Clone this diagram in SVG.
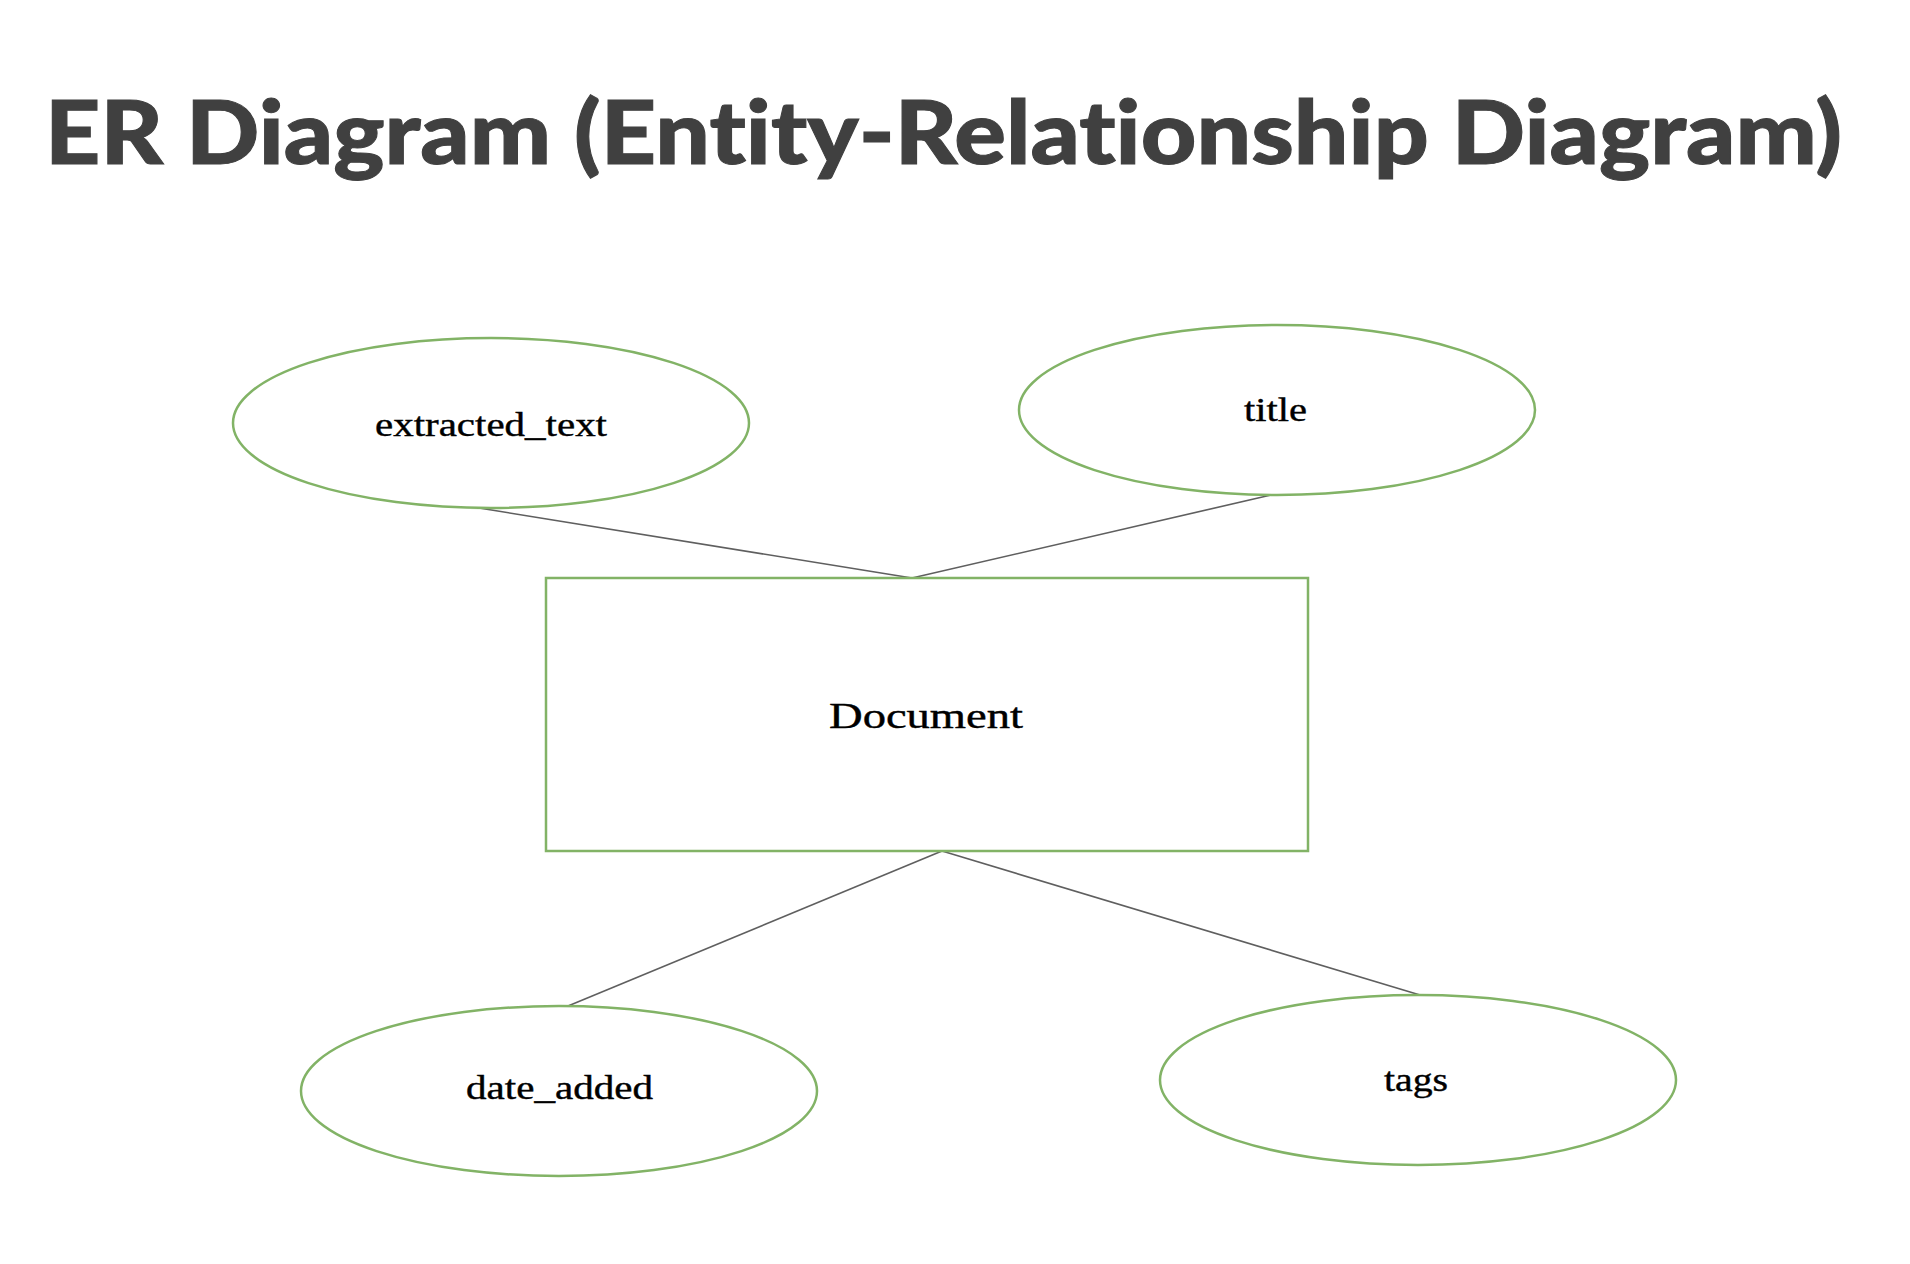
<svg xmlns="http://www.w3.org/2000/svg" width="1910" height="1264" viewBox="0 0 1910 1264">
<style>
.bg{fill:#ffffff}
.attr{fill:#ffffff;stroke:#82b366;stroke-width:2.5}
.ent{fill:#ffffff;stroke:#82b366;stroke-width:2.5}
.lbl{font-family:"Liberation Serif","Times New Roman",serif;font-size:33px;fill:#000000;stroke:#000000;stroke-width:0.4}
.conn line{stroke:#5f5f5f;stroke-width:1.6}
.ttl{font-family:Lato,"Liberation Sans",sans-serif;font-weight:900;font-size:87px;fill:#404040;stroke:#404040;stroke-width:1;font-variant-ligatures:none;font-feature-settings:"liga" 0}
</style>
<rect class="bg" x="0" y="0" width="1910" height="1264"/>
<text class="ttl" x="45" y="164" textLength="1797" lengthAdjust="spacingAndGlyphs">ER Diagram (Entity-Relationship Diagram)</text>
<g id="connectors" class="conn">
<line x1="479" y1="508" x2="912" y2="578"/>
<line x1="1271" y1="495" x2="912" y2="578"/>
<line x1="942" y1="851" x2="568" y2="1006"/>
<line x1="942" y1="851" x2="1420" y2="995"/>
</g>
<g id="document">
<rect class="ent" x="546" y="578" width="762" height="273"/>
<text class="lbl" x="829" y="728" style="font-size:35px" textLength="194" lengthAdjust="spacingAndGlyphs">Document</text>
</g>
<g id="extracted_text">
<ellipse class="attr" cx="491" cy="423" rx="258" ry="85"/>
<text class="lbl" x="375" y="436" textLength="232" lengthAdjust="spacingAndGlyphs">extracted_text</text>
</g>
<g id="title">
<ellipse class="attr" cx="1277" cy="410" rx="258" ry="85"/>
<text class="lbl" x="1244" y="421" textLength="63" lengthAdjust="spacingAndGlyphs">title</text>
</g>
<g id="date_added">
<ellipse class="attr" cx="559" cy="1091" rx="258" ry="85"/>
<text class="lbl" x="466" y="1099" textLength="187" lengthAdjust="spacingAndGlyphs">date_added</text>
</g>
<g id="tags">
<ellipse class="attr" cx="1418" cy="1080" rx="258" ry="85"/>
<text class="lbl" x="1384" y="1091" textLength="64" lengthAdjust="spacingAndGlyphs">tags</text>
</g>
</svg>
